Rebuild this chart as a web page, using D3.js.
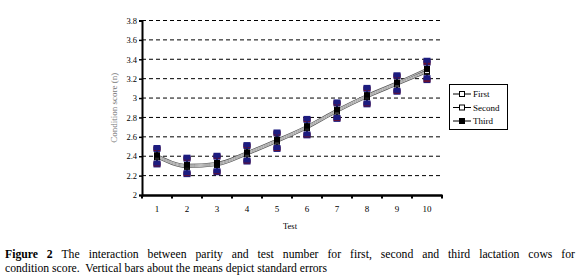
<!DOCTYPE html>
<html><head><meta charset="utf-8">
<script src="https://cdn.jsdelivr.net/npm/d3@7"></script>
<style>body{margin:0;background:#fff}svg{display:block}</style>
</head><body>
<svg id="c" width="580" height="280"></svg>
<script>
const tests = [1,2,3,4,5,6,7,8,9,10];
const first  = [2.39,2.29,2.31,2.42,2.55,2.69,2.86,3.01,3.14,3.27];
const second = [2.40,2.30,2.32,2.43,2.56,2.70,2.87,3.02,3.15,3.28];
const third  = [2.41,2.31,2.33,2.44,2.57,2.71,2.88,3.03,3.16,3.30];
const seFirst  = [0.08,0.08,0.08,0.08,0.08,0.08,0.08,0.08,0.08,0.09];
const seSecond = [0.08,0.08,0.08,0.08,0.08,0.08,0.08,0.08,0.08,0.09];
const seThird  = [0.08,0.08,0.08,0.08,0.08,0.08,0.08,0.08,0.08,0.09];
const yTicks = [2,2.2,2.4,2.6,2.8,3,3.2,3.4,3.6,3.8];
const seriesNames = ["First","Second","Third"];
const yTitle = "Condition score (n)";
const xTitle = "Test";
const captionBold = "Figure 2";
const caption1 = "The interaction between parity and test number for first, second and third lactation cows for";
const caption2 = "condition score.  Vertical bars about the means depict standard errors";

const series = [
  {name: seriesNames[0], vals: first, se: seFirst, fill: "#fff"},
  {name: seriesNames[1], vals: second, se: seSecond, fill: "#fff"},
  {name: seriesNames[2], vals: third, se: seThird, fill: "#000"}
];

const svg = d3.select("#c");
const serif = "'Liberation Serif', 'DejaVu Serif', serif";
const L = 142, R = 442, T = 20.5, B = 195;
const x = d3.scaleBand().domain(tests).range([L, R]);
const y = d3.scaleLinear().domain([2, 3.8]).range([B, T]);

// gridlines
svg.append("g").selectAll("line").data(yTicks.filter(d => d > 2)).join("line")
  .attr("x1", L).attr("x2", R).attr("y1", d => y(d)).attr("y2", d => y(d))
  .attr("stroke", "#000").attr("stroke-width", 1).attr("stroke-dasharray", "4,3");

// y axis
const ya = svg.append("g").attr("transform", `translate(${L},0)`)
  .call(d3.axisLeft(y).tickValues(yTicks).tickFormat(d3.format("~g")).tickSize(3).tickPadding(2));
ya.select(".domain").attr("stroke-width", 2);
ya.selectAll(".tick line").attr("stroke-width", 1.5);
ya.selectAll("text").attr("font-family", serif).attr("font-size", 8.5).attr("fill", "#000");

// x axis
const xa = svg.append("g").attr("transform", `translate(0,${B})`)
  .call(d3.axisBottom(x).tickSize(0).tickPadding(11));
xa.select(".domain").attr("stroke-width", 2.5);
xa.selectAll("text").attr("font-family", serif).attr("font-size", 9).attr("fill", "#000");
svg.append("g").selectAll("line").data(tests.concat([11])).join("line")
  .attr("x1", (d,i) => L + i * x.bandwidth()).attr("x2", (d,i) => L + i * x.bandwidth())
  .attr("y1", B).attr("y2", B + 3.5).attr("stroke", "#000").attr("stroke-width", 2);

// titles
svg.append("text").attr("transform", `translate(117,${(T+B)/2}) rotate(-90)`)
  .attr("text-anchor", "middle").attr("font-family", serif).attr("font-size", 9)
  .attr("fill", "#777").text(yTitle);
svg.append("text").attr("x", (L+R)/2 - 2).attr("y", 229).attr("text-anchor", "middle")
  .attr("font-family", serif).attr("font-size", 8.5).attr("fill", "#000").text(xTitle);

// lines
const line = d3.line().x((d,i) => x(tests[i]) + x.bandwidth()/2).y(d => y(d)).curve(d3.curveMonotoneX);
const gl = svg.append("g");
series.forEach(s => {
  gl.append("path").attr("d", line(s.vals)).attr("fill", "none").attr("stroke", "#555").attr("stroke-width", 2.2);
});
series.forEach(s => {
  gl.append("path").attr("d", line(s.vals)).attr("fill", "none").attr("stroke", "#ddd").attr("stroke-width", 0.8);
});

// error bars
const ge = svg.append("g");
series.forEach((s, si) => {
  s.vals.forEach((v, i) => {
    const cx = x(tests[i]) + x.bandwidth()/2;
    const yt = y(v + s.se[i]), yb = y(v - s.se[i]);
    ge.append("line").attr("x1", cx).attr("x2", cx).attr("y1", yt).attr("y2", yb)
      .attr("stroke", "#1a1a6e").attr("stroke-width", 1.5);
    [yt, yb].forEach(yy => {
      ge.append("rect").attr("x", cx - 3.5).attr("y", yy - 2.5).attr("width", 7).attr("height", 5)
        .attr("fill", si === 1 ? "#6a1030" : "#1c1c80");
    });
  });
});
// markers
series.forEach(s => {
  s.vals.forEach((v, i) => {
    const cx = x(tests[i]) + x.bandwidth()/2;
    ge.append("rect").attr("x", cx - 2.5).attr("y", y(v) - 2.5).attr("width", 5).attr("height", 5)
      .attr("fill", s.fill).attr("stroke", "#000").attr("stroke-width", 1);
  });
});

// legend
const lg = svg.append("g");
lg.append("rect").attr("x", 449.5).attr("y", 84.5).attr("width", 58).attr("height", 45)
  .attr("fill", "#fff").attr("stroke", "#000").attr("stroke-width", 1);
series.forEach((s, i) => {
  const yy = 94 + i * 13.5;
  lg.append("line").attr("x1", 453).attr("x2", 471).attr("y1", yy).attr("y2", yy).attr("stroke", "#000");
  lg.append("rect").attr("x", 459.5).attr("y", yy - 2.5).attr("width", 5).attr("height", 5)
    .attr("fill", s.fill).attr("stroke", "#000");
  lg.append("text").attr("x", 473).attr("y", yy + 3).attr("font-family", serif).attr("font-size", 9)
    .text(s.name);
});

// caption
const cap = svg.append("text").attr("x", 5).attr("y", 258).attr("font-family", serif).attr("font-size", 11.7);
cap.append("tspan").attr("font-weight", "bold").text(captionBold);
cap.append("tspan").text(" " + caption1);
const natural = cap.node().getComputedTextLength();
const spaces = (captionBold + " " + caption1).split(" ").length - 1;
cap.attr("word-spacing", (575 - 5 - natural) / spaces);
svg.append("text").attr("x", 5).attr("y", 272).attr("font-family", serif).attr("font-size", 11.7)
  .style("white-space", "pre").text(caption2);
</script>
</body></html>
